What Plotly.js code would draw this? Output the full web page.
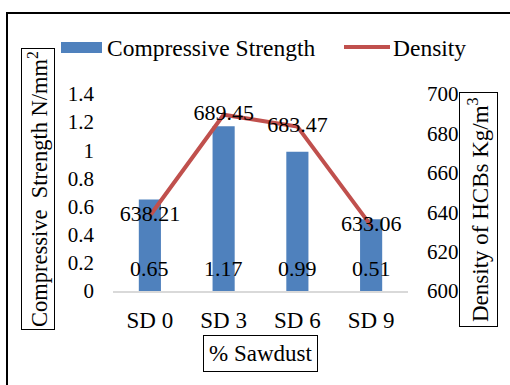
<!DOCTYPE html>
<html>
<head>
<meta charset="utf-8">
<script src="https://cdn.plot.ly/plotly-3.0.1.min.js"></script>
<style>
  html, body { margin: 0; padding: 0; background: #fff; }
  #chart { width: 510px; height: 385px; }
</style>
</head>
<body>
<div id="chart"></div>
<script>
// Sawdust content of the hollow concrete blocks
const categories = ['SD 0', 'SD 3', 'SD 6', 'SD 9'];
// Compressive strength, N/mm²
const strength = [0.65, 1.17, 0.99, 0.51];
// Density of HCBs, Kg/m³
const density = [638.21, 689.45, 683.47, 633.06];
const strengthTicks = [0, 0.2, 0.4, 0.6, 0.8, 1, 1.2, 1.4];
const densityTicks = [600, 620, 640, 660, 680, 700];

const SERIF = 'Liberation Serif, Times New Roman, serif';
const BLUE = '#4F81BD';
const RED = '#C0504D';

const W = 510, H = 385;
const M = { l: 113, r: 102, t: 94, b: 94 };
const PW = W - M.l - M.r, PH = H - M.t - M.b;
// pixel position -> paper coordinates
const px = x => (x - M.l) / PW;
const py = y => (H - M.b - y) / PH;

const traces = [
  {
    type: 'bar',
    name: 'Compressive Strength',
    x: categories,
    y: strength,
    marker: { color: BLUE },
    width: 0.3,
    hoverinfo: 'x+y'
  },
  {
    type: 'scatter',
    mode: 'lines+text',
    name: 'Density',
    x: categories,
    y: density,
    yaxis: 'y2',
    line: { color: RED, width: 4 },
    text: density.map(v => v.toFixed(2)),
    textposition: 'middle center',
    textfont: { family: SERIF, size: 22, color: '#000' },
    cliponaxis: false
  }
];

// strength values written near the foot of each bar
const barLabels = categories.map((c, i) => ({
  xref: 'x', yref: 'y', x: c, y: 0, yanchor: 'bottom', yshift: 8,
  text: strength[i].toFixed(2), showarrow: false,
  font: { family: SERIF, size: 22, color: '#000' }
}));

const layout = {
  width: W,
  height: H,
  margin: M,
  paper_bgcolor: '#fff',
  plot_bgcolor: '#fff',
  showlegend: false,
  font: { family: SERIF, color: '#000' },
  xaxis: {
    type: 'category',
    showline: true,
    linecolor: '#d9d9d9',
    linewidth: 1.5,
    showgrid: false,
    ticks: '',
    ticklabelstandoff: 8,
    tickfont: { family: SERIF, size: 23, color: '#000' }
  },
  yaxis: {
    range: [0, 1.4],
    tickvals: strengthTicks,
    showgrid: false,
    zeroline: false,
    showline: false,
    ticks: '',
    ticklabelstandoff: 18,
    tickfont: { family: SERIF, size: 21, color: '#000' }
  },
  yaxis2: {
    range: [600, 700],
    tickvals: densityTicks,
    overlaying: 'y',
    side: 'right',
    showgrid: false,
    zeroline: false,
    showline: false,
    ticks: '',
    ticklabelstandoff: 18,
    tickfont: { family: SERIF, size: 21, color: '#000' }
  },
  shapes: [
    // outer frame
    { type: 'rect', xref: 'paper', yref: 'paper', x0: px(7), x1: px(540), y0: py(420), y1: py(13),
      line: { color: '#000', width: 2 }, fillcolor: 'rgba(0,0,0,0)', layer: 'below' },
    // legend swatches
    { type: 'rect', xref: 'paper', yref: 'paper', x0: px(61), x1: px(102), y0: py(53), y1: py(42),
      line: { width: 0 }, fillcolor: BLUE },
    { type: 'line', xref: 'paper', yref: 'paper', x0: px(344), x1: px(390), y0: py(47), y1: py(47),
      line: { color: RED, width: 4 } }
  ],
  annotations: barLabels.concat([
    { xref: 'paper', yref: 'paper', x: px(105), y: py(48), xanchor: 'left', yanchor: 'middle',
      text: 'Compressive Strength', showarrow: false, font: { family: SERIF, size: 23.5, color: '#000' } },
    { xref: 'paper', yref: 'paper', x: px(391), y: py(48), xanchor: 'left', yanchor: 'middle',
      text: 'Density', showarrow: false, font: { family: SERIF, size: 23.5, color: '#000' } },
    // axis titles in framed boxes
    { xref: 'paper', yref: 'paper', x: px(37.5), y: py(189.5), xanchor: 'center', yanchor: 'middle',
      text: 'Compressive  Strength N/mm<sup>2</sup>', textangle: -90, showarrow: false,
      bordercolor: '#000', borderwidth: 1, borderpad: 2,
      font: { family: SERIF, size: 22.5, color: '#000' } },
    { xref: 'paper', yref: 'paper', x: px(478), y: py(210), xanchor: 'center', yanchor: 'middle',
      text: 'Density of HCBs Kg/m<sup>3</sup>', textangle: -90, showarrow: false,
      bordercolor: '#000', borderwidth: 1, borderpad: 4,
      font: { family: SERIF, size: 23, color: '#000' } },
    { xref: 'paper', yref: 'paper', x: px(260), y: py(353.5), xanchor: 'center', yanchor: 'middle',
      text: '% Sawdust', showarrow: false,
      bordercolor: '#000', borderwidth: 1, borderpad: 5,
      font: { family: SERIF, size: 23, color: '#000' } }
  ])
};

Plotly.newPlot('chart', traces, layout, { displayModeBar: false, staticPlot: true });
</script>
</body>
</html>
